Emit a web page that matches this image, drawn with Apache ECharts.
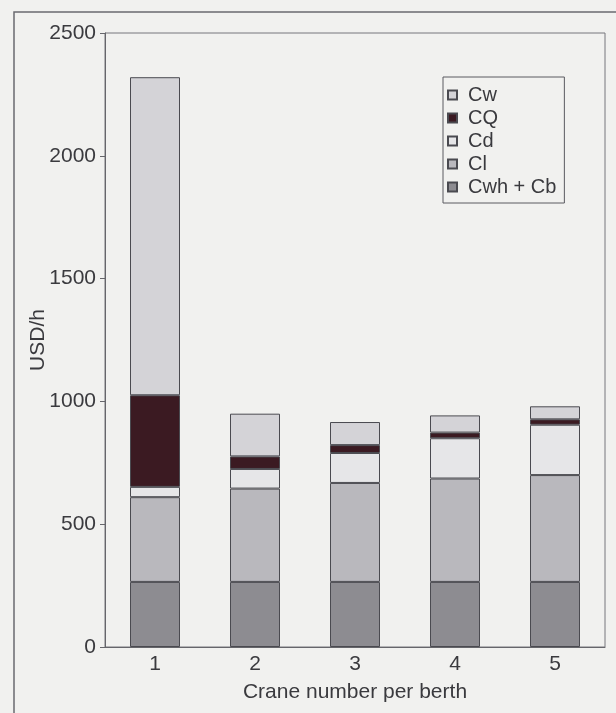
<!DOCTYPE html>
<html><head><meta charset="utf-8">
<script src="https://cdn.jsdelivr.net/npm/echarts@6/dist/echarts.min.js"></script>
<style>html,body{margin:0;padding:0;background:#f1f1ef;}#c{width:616px;height:713px;}</style>
</head><body><div id="c"></div>
<script>
const categories = ['1', '2', '3', '4', '5'];
const cwhCb = [265, 265, 265, 265, 265];
const cl = [345, 380, 403, 421, 435];
const cd = [42, 80, 122, 164, 205];
const cq = [373, 51, 32, 23, 22];
const cw = [1295, 174, 94, 70, 53];
const yTicks = [0, 500, 1000, 1500, 2000, 2500];

const chart = echarts.init(document.getElementById('c'));
const font = 'Liberation Sans, Arial, sans-serif';
const txt = '#3a3a3e';
function s(name, data, color) {
  return { name, type: 'bar', stack: 'a', data, barWidth: '50%',
    itemStyle: { color, borderColor: '#4a4a50', borderWidth: 1 } };
}
chart.setOption({
  backgroundColor: '#f1f1ef',
  animation: false,
  textStyle: { fontFamily: font },
  graphic: [{ type: 'rect', shape: { x: 14, y: 12, width: 640, height: 740 },
    style: { fill: 'none', stroke: '#6a6a70', lineWidth: 1.5 }, silent: true }],
  grid: { left: 105, right: 11, top: 33, bottom: 66, show: true, borderColor: '#77777c', borderWidth: 1 },
  legend: {
    orient: 'vertical', left: 443, top: 77,
    data: ['Cw', 'CQ', 'Cd', 'Cl', 'Cwh + Cb'],
    icon: 'rect', itemWidth: 9, itemHeight: 9, itemGap: 3,
    borderColor: '#5a5a60', borderWidth: 1, padding: [8, 8, 6, 4],
    textStyle: { fontSize: 20, color: txt, fontFamily: font, padding: [0, 0, 0, 6] }
  },
  xAxis: {
    type: 'category', data: categories,
    name: 'Crane number per berth', nameLocation: 'middle', nameGap: 35, nameMoveOverlap: false,
    nameTextStyle: { fontSize: 21, color: txt },
    axisLine: { lineStyle: { color: '#66666b' } },
    axisTick: { length: 6, lineStyle: { color: '#66666b' } },
    axisLabel: { fontSize: 21, color: txt, margin: 7 }
  },
  yAxis: {
    type: 'value', min: yTicks[0], max: yTicks[yTicks.length - 1], interval: 500,
    name: 'USD/h', nameLocation: 'middle', nameGap: 56, nameMoveOverlap: false,
    nameTextStyle: { fontSize: 21, color: txt },
    splitLine: { show: false },
    axisLine: { show: true, lineStyle: { color: '#66666b' } },
    axisTick: { show: true, length: 5, lineStyle: { color: '#66666b' } },
    axisLabel: { fontSize: 21, color: txt, margin: 9, formatter: v => String(v) }
  },
  series: [
    s('Cwh + Cb', cwhCb, '#8d8c91'),
    s('Cl', cl, '#b9b8bd'),
    s('Cd', cd, '#e6e6e8'),
    s('CQ', cq, '#3b1a22'),
    s('Cw', cw, '#d4d3d7')
  ]
});
</script></body></html>
